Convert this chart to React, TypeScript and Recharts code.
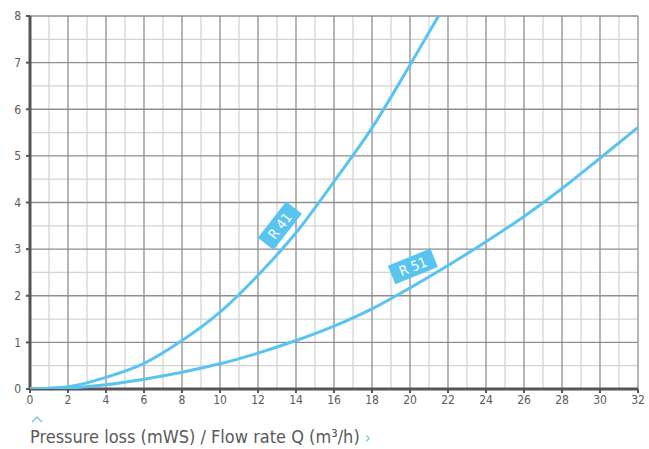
import { LineChart, Line, XAxis, YAxis, CartesianGrid, ReferenceDot } from 'recharts'

// flow rate Q (m³/h) vs pressure loss (mWS)
const r41X = [0, 2, 4, 6, 8, 10, 12, 14, 16, 18, 20, 21.5]
const r41Y = [0, 0.05, 0.25, 0.55, 1.04, 1.65, 2.44, 3.35, 4.45, 5.6, 6.95, 8]

const r51X = [0, 2, 4, 6, 8, 10, 12, 14, 16, 18, 20, 22, 24, 26, 28, 30, 32]
const r51Y = [0, 0.02, 0.09, 0.21, 0.36, 0.54, 0.77, 1.04, 1.35, 1.72, 2.17, 2.65, 3.16, 3.7, 4.3, 4.95, 5.61]

const xTicks = [0, 2, 4, 6, 8, 10, 12, 14, 16, 18, 20, 22, 24, 26, 28, 30, 32]
const xMinor = [1, 3, 5, 7, 9, 11, 13, 15, 17, 19, 21, 23, 25, 27, 29, 31]
const yTicks = [0, 1, 2, 3, 4, 5, 6, 7, 8]
const yMinor = [0.5, 1.5, 2.5, 3.5, 4.5, 5.5, 6.5, 7.5]

const BLUE = '#5ac4f0'
const TXT = '#5a5a5a'
const FONT = '"DejaVu Sans Condensed", "Liberation Sans Narrow", Roboto, sans-serif'

const r41 = r41X.map((q, i) => ({ q, p: r41Y[i] }))
const r51 = r51X.map((q, i) => ({ q, p: r51Y[i] }))

const curveLabel = (text: string, angle: number) => (props: { cx?: number; cy?: number }) => {
  const { cx = 0, cy = 0 } = props
  return (
    <g transform={`translate(${cx},${cy}) rotate(${angle})`}>
      <rect x={-23} y={-10} width={46} height={20} fill={BLUE} />
      <text x={0} y={5} textAnchor="middle" fill="#fff" fontSize={14} fontFamily={FONT}>
        {text}
      </text>
    </g>
  )
}

export default function App() {
  const tick = { fontSize: 12, fill: TXT, fontFamily: FONT }
  return (
    <div style={{ position: 'absolute', left: 0, top: 0, width: 649, height: 449, background: '#fff' }}>
      <LineChart width={649} height={449} margin={{ top: 16, right: 11, left: 0, bottom: 30 }}>
        <CartesianGrid stroke="#d4d4d4" strokeWidth={1.3} horizontalValues={yMinor} verticalValues={xMinor} />
        <CartesianGrid stroke="#8e8e8e" strokeWidth={1.3} horizontalValues={yTicks} verticalValues={xTicks} />
        {/* axis lines drawn as grid so the curves sit on top of them */}
        <CartesianGrid stroke="#555" strokeWidth={3} horizontalValues={[0]} verticalValues={[0]} />
        <XAxis
          dataKey="q"
          type="number"
          domain={[0, 32]}
          ticks={xTicks}
          interval={0}
          tick={tick}
          tickSize={4}
          tickMargin={2}
          height={30}
          axisLine={false}
          tickLine={{ stroke: '#555', strokeWidth: 2 }}
        />
        <YAxis
          type="number"
          domain={[0, 8]}
          ticks={yTicks}
          interval={0}
          allowDataOverflow
          tick={tick}
          tickSize={4}
          tickMargin={5}
          width={30}
          axisLine={false}
          tickLine={{ stroke: '#555', strokeWidth: 2 }}
        />
        <Line data={r41} dataKey="p" type="monotone" stroke={BLUE} strokeWidth={3} dot={false} isAnimationActive={false} />
        <Line data={r51} dataKey="p" type="monotone" stroke={BLUE} strokeWidth={3} dot={false} isAnimationActive={false} />
        <ReferenceDot x={13.15} y={3.5} shape={curveLabel('R 41', -52)} />
        <ReferenceDot x={20.15} y={2.63} shape={curveLabel('R 51', -22)} />
      </LineChart>
      <svg style={{ position: 'absolute', left: 0, top: 0 }} width={649} height={449}>
        <polyline points="32,422 37,417 42,422" fill="none" stroke={BLUE} strokeWidth={1.2} />
      </svg>
      <div
        style={{
          position: 'absolute',
          left: 30,
          top: 426,
          fontFamily: FONT,
          fontSize: 18,
          color: TXT,
          whiteSpace: 'nowrap',
          lineHeight: '22px',
        }}
      >
        Pressure loss (mWS) / Flow rate Q (m³/h) <span style={{ color: BLUE, fontSize: 16 }}>›</span>
      </div>
    </div>
  )
}
